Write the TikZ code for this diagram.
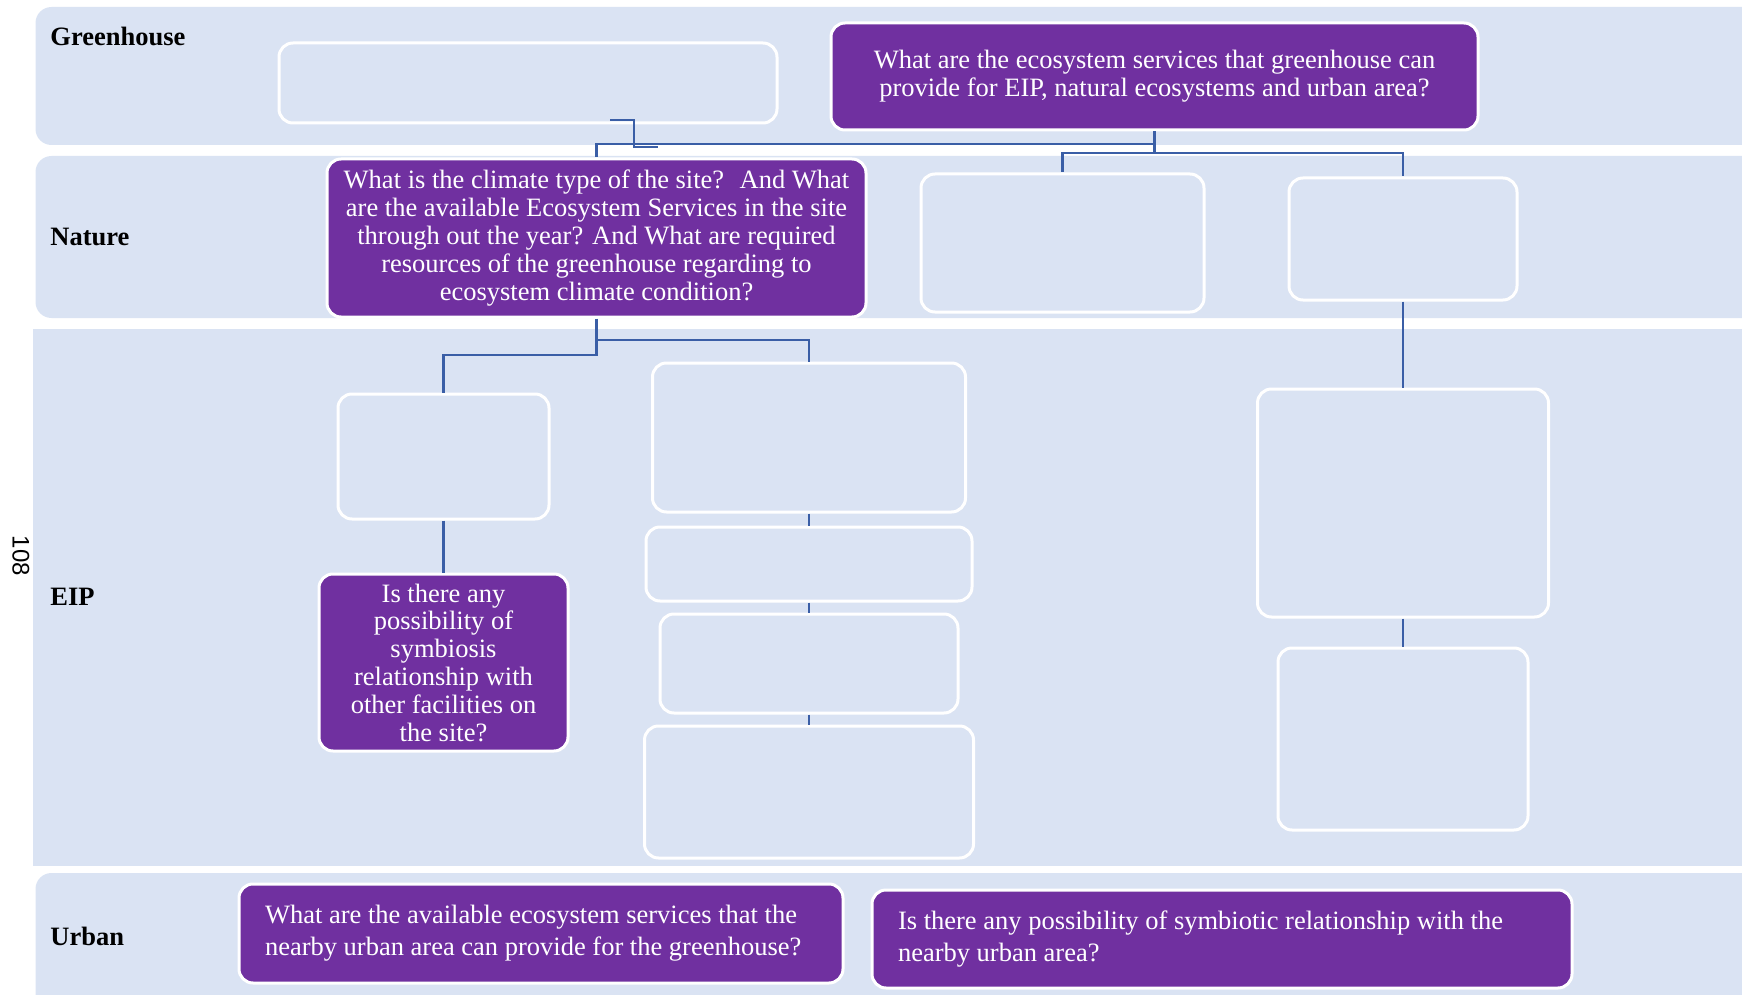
\documentclass[tikz,border=0pt]{standalone}
\usepackage{fontspec}
\setmainfont{Liberation Serif}
\newfontfamily\pagenumfont{Liberation Sans}
\definecolor{bandblue}{HTML}{DAE3F3}
\definecolor{qpurple}{HTML}{7030A0}
\definecolor{linkblue}{HTML}{3A5EA6}
\begin{document}
\begin{tikzpicture}[x=0.5pt,y=-0.5pt,
  band/.style={fill=bandblue, draw=none},
  lanelabel/.style={anchor=west, font=\bfseries\fontsize{13.25}{14}\selectfont, text depth=0pt, inner sep=0pt},
  emptybox/.style={draw=white, line width=1.5pt, fill=bandblue, rounded corners=7pt, inner sep=0pt},
  question/.style={draw=white, line width=1.5pt, fill=qpurple, rounded corners=7pt, text=white,
    font=\fontsize{13.25}{13.9}\selectfont, align=center, inner sep=0pt},
  leftquestion/.style={question, align=flush left, inner xsep=13pt, font=\fontsize{13.25}{16}\selectfont},
  link/.style={draw=linkblue, line width=1.35pt},
]
\useasboundingbox (0,0) rectangle (1742,995);
\clip (0,0) rectangle (1742,995);

% swim lanes
\fill[band, rounded corners=8pt] (35.5,7) rectangle (1770,145);
\fill[band, rounded corners=8pt] (35.5,156) rectangle (1770,318);
\fill[band] (33,329) rectangle (1770,866);
\fill[band, rounded corners=8pt] (35.5,873) rectangle (1770,1020);

% lane titles
\node[lanelabel] (lgh) at (50,36) {Greenhouse};
\node[lanelabel] (lna) at (50,237) {Nature};
\node[lanelabel] (leip) at (50,597) {EIP};
\node[lanelabel] (lurb) at (50,936) {Urban};

% page number
\node[rotate=-90, font=\pagenumfont\fontsize{12}{12}\selectfont, inner sep=0pt] (pagenum) at (21,556) {108};

% question boxes
\node[question, minimum width=323.5pt, minimum height=53.5pt] (pq1) at (1154.5,76.5)
  {What are the ecosystem services that greenhouse can\\provide for EIP, natural ecosystems and urban area?};
\node[question, minimum width=269.5pt, minimum height=79pt] (pq2) at (596.5,238)
  {What is the climate type of the site?~ And What\\are the available Ecosystem Services in the site\\through out the year? And What are required\\resources of the greenhouse regarding to\\ecosystem climate condition?};
\node[question, minimum width=124.5pt, minimum height=88.5pt] (pq3) at (443.5,662.5)
  {Is there any\\possibility of\\symbiosis\\relationship with\\other facilities on\\the site?};
\node[leftquestion, text width=276pt, minimum height=49.5pt] (pq4) at (541,933.5)
  {What are the available ecosystem services that the\\nearby urban area can provide for the greenhouse?};
\node[leftquestion, text width=324pt, minimum height=49pt] (pq5) at (1222,939)
  {Is there any possibility of symbiotic relationship with the\\nearby urban area?};

% empty boxes
\node[emptybox, minimum width=249pt, minimum height=40pt] (e1) at (528,83) {};
\node[emptybox, minimum width=141.5pt, minimum height=69pt] (n1) at (1062.5,243) {};
\node[emptybox, minimum width=114pt, minimum height=61pt] (n2) at (1403,239) {};
\node[emptybox, minimum width=145.5pt, minimum height=114pt] (r1) at (1403,503) {};
\node[emptybox, minimum width=125pt, minimum height=91pt] (r2) at (1403,739) {};
\node[emptybox, minimum width=105.5pt, minimum height=62.5pt] (l1) at (443.5,456.5) {};
\node[emptybox, minimum width=156.5pt, minimum height=74.5pt] (c1) at (809,437.5) {};
\node[emptybox, minimum width=163pt, minimum height=37pt] (c2) at (809,564) {};
\node[emptybox, minimum width=149pt, minimum height=49.5pt] (c3) at (809,663.5) {};
\node[emptybox, minimum width=164.5pt, minimum height=66pt] (c4) at (809,792) {};

% bus levels of the elbow connectors
\coordinate (busGH) at (0,144);
\coordinate (busN) at (0,153);
\coordinate (busE1) at (0,340);
\coordinate (busE2) at (0,355);
\coordinate (zA) at (610,120);
\coordinate (zB) at (658,147);

% connectors
\draw[link] (pq1.south) -- (pq1.south |- busGH) -| (pq2.north);
\draw[link] (pq1.south) -- (pq1.south |- busN) -| (n1.north);
\draw[link] (pq1.south |- busN) -| (n2.north);
\draw[link] (zA) -- ++(24,0) |- (zB);
\draw[link] (pq2.south) -- (pq2.south |- busE2) -| (l1.north);
\draw[link] (pq2.south |- busE1) -| (c1.north);
\draw[link] (l1.south) -- (pq3.north);
\draw[link] (c1.south) -- (c2.north);
\draw[link] (c2.south) -- (c3.north);
\draw[link] (c3.south) -- (c4.north);
\draw[link] (n2.south) -- (r1.north);
\draw[link] (r1.south) -- (r2.north);
\end{tikzpicture}
\end{document}
